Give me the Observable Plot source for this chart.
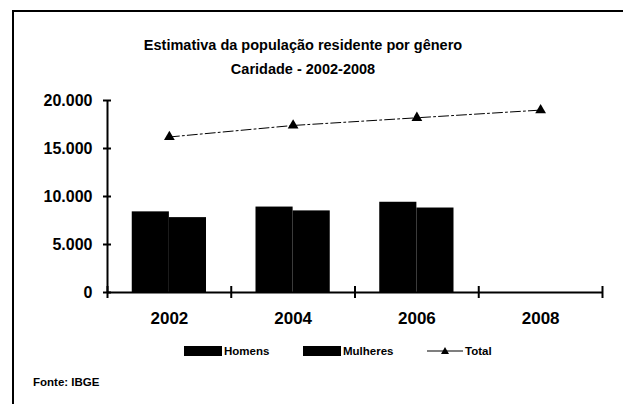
<!DOCTYPE html>
<html>
<head>
<meta charset="utf-8">
<script src="https://cdn.jsdelivr.net/npm/d3@7"></script>
<script src="https://cdn.jsdelivr.net/npm/@observablehq/plot@0.6"></script>
<style>
  html, body { margin: 0; padding: 0; background: #fff; }
  #wrap { position: relative; width: 623px; height: 404px; overflow: hidden; font-family: "Liberation Sans", Arial, sans-serif; font-weight: bold; color: #000; }
  #frame { position: absolute; left: 12px; top: 10px; width: 640px; height: 420px; border-top: 2px solid #000; border-left: 2px solid #000; }
  .title { position: absolute; left: 0; width: 606px; text-align: center; font-size: 14.5px; }
  #chart { position: absolute; left: 0; top: 0; }
  .leg { position: absolute; top: 344px; font-size: 11.5px; display: flex; align-items: center; height: 13px; }
  .box { width: 38px; height: 10px; background: #000; margin-right: 2px; }
  #fonte { position: absolute; left: 33px; top: 376px; font-size: 11.5px; }
</style>
</head>
<body>
<div id="wrap">
  <div id="frame"></div>
  <div class="title" style="top:37px">Estimativa da população residente por gênero</div>
  <div class="title" style="top:61px">Caridade - 2002-2008</div>
  <div id="chart"></div>
  <div class="leg" style="left:184px"><div class="box"></div>Homens</div>
  <div class="leg" style="left:303px"><div class="box"></div>Mulheres</div>
  <div class="leg" style="left:427px"><svg width="38" height="12"><line x1="0" y1="6" x2="36" y2="6" stroke="#000" stroke-width="1.2"/><path d="M18,2 L22,9 L14,9 Z" fill="#000"/></svg>Total</div>
  <div id="fonte">Fonte: IBGE</div>
</div>
<script>
const years = [2002, 2004, 2006, 2008];
const homens = [8400, 8900, 9400, null];
const mulheres = [7800, 8500, 8800, null];
const total = [16200, 17400, 18200, 19000];
const yTicks = [0, 5000, 10000, 15000, 20000];
const xBounds = [2001, 2003, 2005, 2007, 2009];

const bars = years.map((y, i) => ({year: y, homens: homens[i], mulheres: mulheres[i]})).filter(d => d.homens != null);
const totals = years.map((y, i) => ({year: y, total: total[i]}));
const fmt = d => d3.format(",")(d).replace(/,/g, ".");

const chart = Plot.plot({
  width: 623,
  height: 340,
  marginLeft: 107,
  marginRight: 21,
  marginTop: 100,
  marginBottom: 48,
  style: {fontFamily: "Liberation Sans, Arial, sans-serif", fontWeight: "bold", fontSize: "13px", color: "#000", background: "transparent"},
  x: {domain: [2001, 2009], axis: null},
  y: {domain: [0, 20000], axis: null},
  marks: [
    Plot.rectY(bars, {x1: d => d.year - 0.6, x2: d => d.year, y: "homens", fill: "#000"}),
    Plot.rectY(bars, {x1: d => d.year, x2: d => d.year + 0.6, y: "mulheres", fill: "#000"}),
    Plot.lineY(totals, {x: "year", y: "total", stroke: "#000", strokeWidth: 1, strokeDasharray: "10,3,2,3"}),
    Plot.dot(totals, {x: "year", y: "total", symbol: "triangle", r: 4, fill: "#000"}),
    Plot.ruleX([2001], {stroke: "#000", strokeWidth: 2}),
    Plot.ruleY([0], {stroke: "#000", strokeWidth: 2}),
    Plot.ruleY(yTicks, {x1: 2001, x2: 2001, insetLeft: -4, insetRight: -4, stroke: "#000", strokeWidth: 2}),
    Plot.ruleX(xBounds, {y1: 0, y2: 0, insetTop: -6, insetBottom: -6, stroke: "#000", strokeWidth: 2}),
    Plot.axisY({ticks: yTicks, tickSize: 0, tickPadding: 15, tickFormat: fmt, fontSize: 16, label: null}),
    Plot.axisX({ticks: years, tickSize: 0, tickPadding: 19, tickFormat: d => String(d), fontSize: 17, label: null})
  ]
});
document.getElementById("chart").appendChild(chart);
</script>
</body>
</html>
